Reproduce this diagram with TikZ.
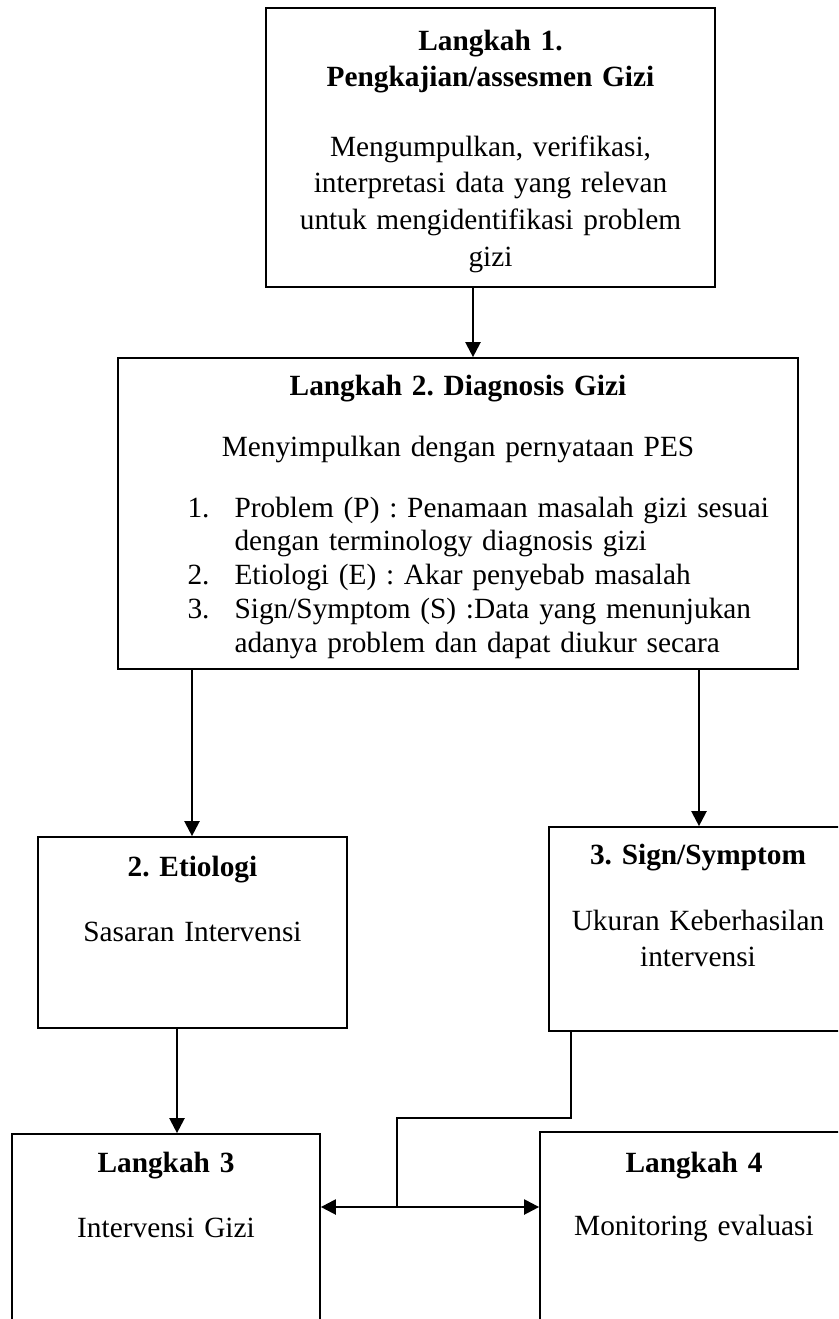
\documentclass[tikz,border=0pt]{standalone}
\usepackage{fontspec}
\setmainfont{Liberation Serif}
\frenchspacing
\usetikzlibrary{fit}
\usetikzlibrary{arrows.meta}
\tikzset{
    gizibox/.style={draw, line width=0.65pt, inner sep=0pt},
    heading/.style={font=\bfseries\fontsize{11}{13.8}\selectfont, align=center, inner sep=0pt, anchor=base},
    body/.style={font=\fontsize{11}{13.8}\selectfont, align=center, inner sep=0pt, anchor=base},
    flow/.style={line width=0.85pt, -{Triangle[length=5.6pt,width=5.6pt]}},
    flowboth/.style={line width=0.85pt, {Triangle[length=5.6pt,width=5.6pt]}-{Triangle[length=5.6pt,width=5.6pt]}},
    link/.style={line width=0.65pt}
  }

\begin{document}
\begin{tikzpicture}[x=0.375pt, y=-0.375pt]
 \useasboundingbox (0,0) rectangle (838,1319);
 \clip (0,0) rectangle (838,1319);
 %Langkah 1
     \node[gizibox, line width=0.9pt, fit={(266,8) (715,287)}] (s1) {};
     \node[heading, text width=170pt] (s1h) at (490.5,50) {Langkah 1.\\Pengkajian/assesmen Gizi};
     \node[body, text width=170pt] (s1t) at (490.5,156) {Mengumpulkan, verifikasi,\\interpretasi data yang relevan\\untuk mengidentifikasi problem\\gizi};
 %Langkah 2
     \node[gizibox, fit={(118,358) (798,669)}] (s2) {};
     \node[heading, text width=220pt] (s2h) at (458,395) {Langkah 2. Diagnosis Gizi};
     \node[body, text width=220pt] (s2t) at (458,456) {Menyimpulkan dengan pernyataan PES};
     \node[body, anchor=base west] (n1) at (187,517) {1.};
     \node[body, anchor=base west] (n2) at (187,584.5) {2.};
     \node[body, anchor=base west] (n3) at (187,618.25) {3.};
     \node[body, align=left, anchor=base west, text width=220pt, font=\fontsize{11}{12.66}\selectfont] (pes) at (234,517)
        {Problem (P) : Penamaan masalah gizi sesuai\\dengan terminology diagnosis gizi\\Etiologi (E) : Akar penyebab masalah\\Sign/Symptom (S) :Data yang menunjukan\\adanya problem dan dapat diukur secara};
 %Etiologi
     \node[gizibox, fit={(38,837) (347,1028)}] (etio) {};
     \node[heading, text width=110pt] (etioh) at (192.5,876) {2. Etiologi};
     \node[body, text width=110pt] (etiot) at (192.5,941) {Sasaran Intervensi};
 %Sign/Symptom
     \node[gizibox, fit={(549,827) (848,1031)}] (sign) {};
     \node[heading, text width=110pt] (signh) at (698,864) {3. Sign/Symptom};
     \node[body, text width=110pt] (signt) at (698,930) {Ukuran Keberhasilan\\intervensi};
 %Langkah 3
     \node[gizibox, fit={(12,1134) (320,1360)}] (l3) {};
     \node[heading, text width=110pt] (l3h) at (166,1172) {Langkah 3};
     \node[body, text width=110pt] (l3t) at (166,1237) {Intervensi Gizi};
 %Langkah 4
     \node[gizibox, fit={(540,1132) (848,1360)}] (l4) {};
     \node[heading, text width=110pt] (l4h) at (694,1172) {Langkah 4};
     \node[body, text width=110pt] (l4t) at (694,1235) {Monitoring evaluasi};
 % arrows
     \coordinate (a1) at (473,0);
     \coordinate (a2) at (192,0);
     \coordinate (a3) at (699,0);
     \coordinate (a4) at (177,0);
     \coordinate (a5) at (571,0);
     \coordinate (mid) at (397,1207);
     \draw[flow] (s1.south -| a1) -- (s2.north -| a1);
     \draw[flow] (s2.south -| a2) -- (etio.north -| a2);
     \draw[flow] (s2.south -| a3) -- (sign.north -| a3);
     \draw[flow] (etio.south -| a4) -- (l3.north -| a4);
     \draw[flowboth] (l3.east |- mid) -- (l4.west |- mid);
 %% sign to the double arrow
     \draw[link] (sign.south -| a5) -- ++(0,86) -| (mid);
\end{tikzpicture}
\end{document}
